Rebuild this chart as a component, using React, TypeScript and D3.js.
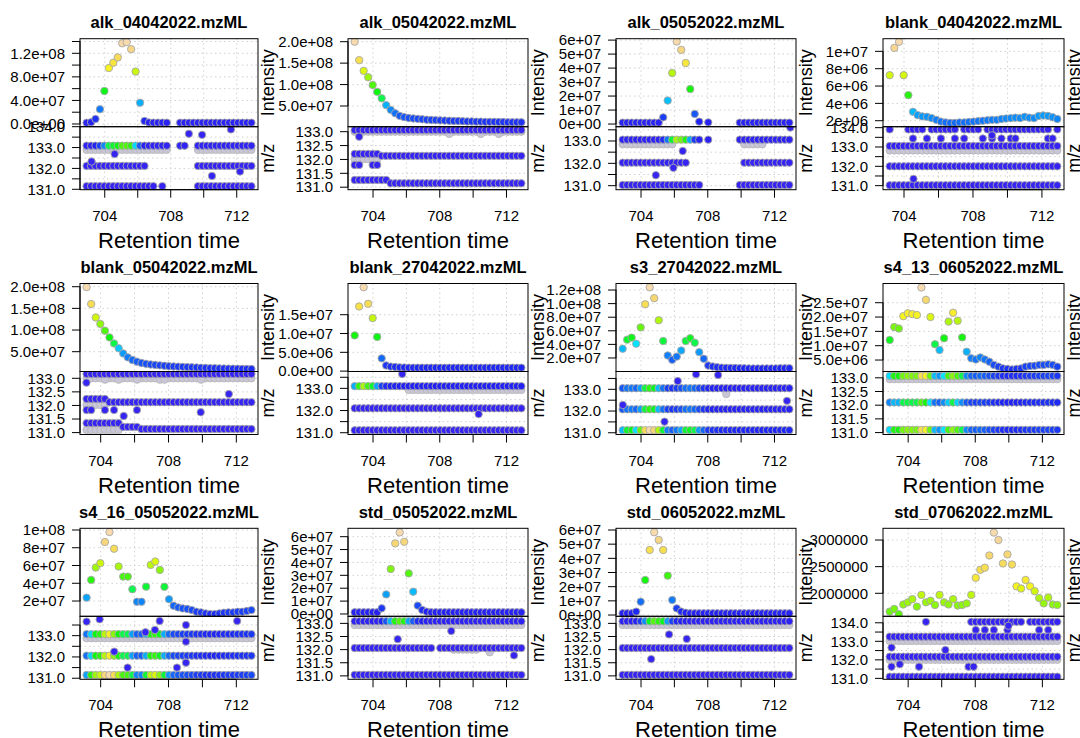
import React from 'react';
import * as d3 from 'd3';

// ---------- data ----------
const rts = [702.90, 703.17, 703.44, 703.71, 703.98, 704.25, 704.52, 704.79, 705.06, 705.33,
  705.60, 705.87, 706.14, 706.41, 706.68, 706.95, 707.22, 707.49, 707.76, 708.03,
  708.30, 708.57, 708.84, 709.11, 709.38, 709.65, 709.92, 710.19, 710.46, 710.73,
  711.00, 711.27, 711.54, 711.81, 712.08, 712.35, 712.62, 712.89];

const fileNames = ['alk_04042022.mzML', 'alk_05042022.mzML', 'alk_05052022.mzML', 'blank_04042022.mzML',
  'blank_05042022.mzML', 'blank_27042022.mzML', 's3_27042022.mzML', 's4_13_06052022.mzML',
  's4_16_05052022.mzML', 'std_05052022.mzML', 'std_06052022.mzML', 'std_07062022.mzML'];

const xTicks = [704, 706, 708, 710, 712];
const xTickLabels = [704, 708, 712];

const intAlk0404 = [2.0e6, 3.0e6, 8.5e6, 2.5e7, 5.6e7, 9.5e7, 1.04e8, 1.13e8, 1.37e8, 1.39e8,
  1.27e8, 8.9e7, 3.6e7, 5.0e6, 2.5e6, 2.3e6, 2.3e6, 2.3e6, 2.2e6, null,
  null, 2.2e6, 2.2e6, 2.2e6, 2.2e6, 2.2e6, 2.2e6, 2.2e6, 2.2e6, 2.2e6,
  2.2e6, 2.2e6, 2.2e6, 2.2e6, 2.2e6, 2.2e6, 2.2e6, 2.2e6];
const intAlk0504 = [2.0e8, 1.57e8, 1.32e8, 1.17e8, 9.9e7, 8.3e7, 6.8e7, 5.2e7, 4.1e7, 3.3e7,
  2.7e7, 2.4e7, 2.2e7, 2.1e7, 2.0e7, 1.9e7, 1.8e7, 1.75e7, 1.7e7, 1.65e7,
  1.6e7, 1.55e7, 1.5e7, 1.5e7, 1.45e7, 1.4e7, 1.4e7, 1.35e7, 1.35e7, 1.3e7,
  1.3e7, 1.3e7, 1.25e7, 1.25e7, 1.2e7, 1.2e7, 1.2e7, 1.2e7];
const intAlk0505 = [1.0e6, 1.0e6, 1.0e6, 1.0e6, 1.0e6, 1.0e6, 1.0e6, 1.0e6, 1.0e6, 4.8e6,
  1.68e7, 3.65e7, 5.9e7, 5.3e7, 4.36e7, 2.5e7, 7.2e6, 1.7e6, null, 1.2e6,
  null, null, null, null, null, null, 1.0e6, 1.0e6, 1.0e6, 1.0e6,
  1.0e6, 1.0e6, 1.0e6, 1.0e6, 1.0e6, 1.0e6, 1.0e6, 1.0e6];
const intBlank0404 = [null, 7.25e6, 1.04e7, 1.11e7, 7.25e6, 4.95e6, 3.03e6, 2.65e6, 2.5e6, 2.45e6,
  2.3e6, 2.1e6, 1.9e6, 1.8e6, 1.75e6, 1.75e6, 1.8e6, 1.8e6, 1.85e6, 1.9e6,
  1.95e6, 2.0e6, 2.05e6, 2.1e6, 2.1e6, 2.2e6, 2.25e6, 2.3e6, 2.35e6, 2.3e6,
  2.45e6, 2.35e6, 2.3e6, 2.55e6, 2.6e6, 2.55e6, 2.4e6, 2.2e6];
const intBlank0504 = [null, 1.99e8, 1.6e8, 1.29e8, 1.14e8, 9.85e7, 8.3e7, 6.9e7, 5.8e7, 4.6e7,
  3.7e7, 3.1e7, 2.7e7, 2.4e7, 2.2e7, 2.05e7, 1.95e7, 1.85e7, 1.75e7, 1.65e7,
  1.6e7, 1.55e7, 1.5e7, 1.45e7, 1.4e7, 1.35e7, 1.3e7, 1.25e7, 1.2e7, 1.2e7,
  1.15e7, 1.12e7, 1.1e7, 1.08e7, 1.05e7, 1.03e7, 1.0e7, 1.0e7];
const intBlank2704 = [9.5e6, 1.72e7, 2.23e7, 1.79e7, 1.41e7, 9.1e6, 3.4e6, 1.5e6, 1.2e6, 1.1e6,
  1.0e6, 9.5e5, 9.0e5, 9.0e5, 9.0e5, 9.0e5, 9.0e5, 9.0e5, 9.0e5, 9.0e5,
  9.0e5, 9.0e5, 9.0e5, 9.0e5, 9.0e5, 9.0e5, 9.0e5, 9.0e5, 9.0e5, 9.0e5,
  9.0e5, 9.0e5, 9.0e5, 9.0e5, 9.0e5, 9.0e5, 9.0e5, 9.0e5];
const intS3 = [3.36e7, 4.7e7, 5.0e7, 4.1e7, 6.5e7, 9.9e7, 1.24e8, 1.08e8, 7.55e7, 4.5e7,
  2.37e7, 1.73e7, 2.2e7, 3.1e7, 4.5e7, 4.9e7, 4.25e7, 2.86e7, 1.88e7, 8.9e6,
  7.4e6, 6.4e6, 5.8e6, 5.5e6, 5.3e6, 5.2e6, 5.0e6, 4.8e6, 4.6e6, 4.5e6,
  4.5e6, 4.5e6, 4.6e6, 4.6e6, 4.7e6, 4.8e6, 4.8e6, 4.9e6];
const intS4_13 = [1.2e7, 1.65e7, 1.6e7, 2.03e7, 2.13e7, 2.1e7, 2.07e7, 3.03e7, 2.6e7, 2.0e7,
  1.05e7, 8.5e6, 1.26e7, 1.84e7, 2.15e7, 1.87e7, 1.29e7, 7.9e6, 5.6e6, 5.2e6,
  5.9e6, 5.2e6, 4.4e6, 3.3e6, 2.7e6, 2.1e6, 1.9e6, 1.7e6, 1.9e6, 2.1e6,
  2.7e6, 2.9e6, 3.0e6, 3.3e6, 3.3e6, 3.5e6, 3.3e6, 2.7e6];
const intS4_16 = [null, 2.38e7, 4.38e7, 5.77e7, 6.26e7, 8.64e7, 9.77e7, 7.89e7, 5.89e7, 4.75e7,
  4.75e7, 3.32e7, 1.92e7, 1.92e7, 3.62e7, 6.07e7, 6.45e7, 5.5e7, 3.6e7, 2.2e7,
  1.47e7, 1.28e7, 1.17e7, 1.1e7, 9.8e6, 7.9e6, 7.2e6, 6.0e6, 5.3e6, 5.3e6,
  6.0e6, 6.8e6, 7.2e6, 7.2e6, 7.9e6, 7.9e6, 8.7e6, 9.8e6];
const intStd0505 = [1.3e6, 1.3e6, 1.3e6, 1.3e6, 1.3e6, 1.3e6, 4.4e6, 1.52e7, 3.49e7, 5.48e7,
  6.33e7, 5.6e7, 3.15e7, 1.73e7, 6.5e6, 3.1e6, 1.8e6, 1.3e6, 1.3e6, 1.3e6,
  1.3e6, 1.3e6, 1.3e6, 1.3e6, 1.3e6, 1.3e6, 1.3e6, 1.3e6, 1.3e6, 1.3e6,
  1.3e6, 1.3e6, 1.3e6, 1.3e6, 1.3e6, 1.3e6, 1.3e6, 1.3e6];
const intStd0605 = [1.2e6, 1.2e6, 1.2e6, 2.4e6, 9.4e6, 2.47e7, 4.59e7, 5.84e7, 5.3e7, 4.59e7,
  2.78e7, 1.06e7, 4.7e6, 2.4e6, 1.6e6, 1.2e6, 1.2e6, 1.2e6, 1.2e6, 1.2e6,
  1.2e6, 1.2e6, 1.2e6, 1.2e6, 1.2e6, 1.2e6, 1.2e6, 1.2e6, 1.2e6, 1.2e6,
  1.2e6, 1.2e6, 1.2e6, 1.2e6, 1.2e6, 1.2e6, 1.2e6, 1.2e6];
const intStd0706 = [1.656e6, 1.706e6, 1.606e6, 1.79e6, 1.83e6, 1.89e6, 1.75e6, 1.97e6, 1.83e6, 1.86e6,
  1.78e6, 1.97e6, 1.83e6, 1.79e6, 1.89e6, 1.77e6, 1.78e6, 1.81e6, 1.97e6, 2.29e6,
  2.44e6, 2.48e6, 2.71e6, 3.14e6, 3.0e6, 2.56e6, 2.73e6, 2.54e6, 2.13e6, 2.09e6,
  2.25e6, 2.13e6, 2.04e6, 1.91e6, 1.81e6, 1.92e6, 1.79e6, 1.78e6];

// intensity axis ticks
const ticksAlk0404 = [0, 2e7, 4e7, 6e7, 8e7, 1e8, 1.2e8, 1.4e8];
const labelsAlk0404 = [0, 4e7, 8e7, 1.2e8];
const ticks5e7 = [5e7, 1e8, 1.5e8, 2e8];
const ticks1e7 = [0, 1e7, 2e7, 3e7, 4e7, 5e7, 6e7];
const ticks2e6 = [2e6, 4e6, 6e6, 8e6, 1e7];
const ticksBlank2704 = [0, 5e6, 1e7, 1.5e7];
const ticks2e7 = [2e7, 4e7, 6e7, 8e7, 1e8, 1.2e8];
const ticksS4_13 = [5e6, 1e7, 1.5e7, 2e7, 2.5e7];
const ticksS4_16 = [2e7, 4e7, 6e7, 8e7, 1e8];
const ticksStd0706 = [2e6, 2.5e6, 3e6];

// m/z axis ticks
const mz131to134 = [131, 131.5, 132, 132.5, 133, 133.5, 134];
const mz131to1335 = [131, 131.5, 132, 132.5, 133, 133.5];
const mz131to133 = [131, 131.5, 132, 132.5, 133];
const mzWhole134 = [131, 132, 133, 134];
const mzWhole133 = [131, 132, 133];

// m/z tracks: [m/z, scan index spans, colour share of the scan intensity]
const ALL = [[0, 37]];
const ALL1 = [[1, 37]];
const tracksAlk0404 = [[133.09, [[0, 18], [21, 22], [25, 37]], 0.5], [132.12, [[0, 13], [25, 37]], 0], [131.15, [[0, 15], [17, 17], [25, 37]], 0]];
const tracksAlk0504 = [[133.06, ALL, 0], [132.2, [[0, 5]], 0], [132.13, [[6, 37]], 0], [131.8, [[0, 1], [4, 5]], 0], [131.26, [[0, 7]], 0], [131.14, [[8, 37]], 0]];
const tracksAlk0505 = [[133.06, [[0, 17], [19, 19], [26, 37]], 0.6], [132.03, [[0, 14], [27, 37]], 0], [131.03, [[0, 17], [26, 37]], 0]];
const tracksBlank0404 = [[133.91, [[1, 1], [5, 8], [10, 15], [17, 20], [22, 35], [37, 37]], 0],
  [133.44, [[6, 6], [9, 9], [12, 12], [15, 15], [17, 17], [21, 21], [23, 23], [25, 25], [27, 28], [35, 36]], 0],
  [133.05, ALL1, 0], [132.0, ALL1, 0], [131.02, ALL1, 0]];
const tracksBlank0504 = [[133.16, ALL1, 0], [132.24, [[1, 5]], 0], [132.12, [[6, 37]], 0], [131.83, [[1, 2], [5, 5], [7, 7]], 0],
  [131.35, [[1, 8]], 0], [131.21, [[9, 12]], 0], [131.13, [[13, 37]], 0]];
const tracksBlank2704 = [[133.1, ALL, 0.6], [132.1, ALL, 0], [131.11, ALL, 0]];
const tracksS3 = [[133.05, ALL, 0.45], [132.08, ALL, 0.45], [131.12, ALL, 1]];
const tracksS4_13 = [[133.07, ALL, 0.8], [132.1, ALL, 0.5], [131.1, ALL, 0.8]];
const tracksS4_16 = [[133.07, ALL1, 0.7], [132.06, ALL1, 0.7], [131.15, ALL1, 1]];
const tracksStd0505 = [[133.08, ALL, 0.5], [132.06, [[0, 17], [19, 37]], 0], [131.04, ALL, 0]];
const tracksStd0605 = [[133.08, ALL, 0.5], [132.06, ALL, 0], [131.04, ALL, 0]];
const tracksStd0706 = [[134.05, [[8, 8], [18, 29], [31, 37]], 0], [133.61, [[19, 19], [21, 21], [23, 23], [26, 26], [33, 33], [35, 35]], 0],
  [133.25, ALL, 0], [132.17, ALL, 0], [131.09, ALL, 0]];

// grey m/z traces: [m/z, spans]
const greyAlk0404 = [[132.89, [[0, 18], [25, 37]]]];
const greyAlk0504 = [[133.0, ALL], [132.01, [[0, 5]]], [132.92, [[21, 21], [28, 28], [32, 32]]]];
const greyAlk0505 = [[132.85, [[0, 11], [27, 31]]]];
const greyBlank0404 = [[132.82, ALL1]];
const greyBlank0504 = [[133.0, ALL1], [132.02, [[1, 5]]], [131.1, [[1, 8]]], [132.95, [[5, 5], [8, 8], [12, 12], [17, 18], [26, 26]]]];
const greyBlank2704 = [[132.93, [[12, 37]]]];
const greyS3 = [[132.78, [[23, 23]]]];
const greyS4_13 = [[132.95, ALL]];
const greyS4_16 = [[132.88, ALL1]];
const greyStd0505 = [[132.94, ALL], [132.0, [[22, 27]]], [131.9, [[30, 30]]]];
const greyStd0605 = [[132.94, ALL]];
const greyStd0706 = [[133.02, ALL], [132.0, ALL]];

// isolated m/z peaks: [rt, m/z]
const outAlk0404 = [[703.2, 132.33], [704.6, 132.69], [709.1, 133.66], [709.9, 133.61], [710.5, 131.64], [711.65, 133.87], [712.2, 131.85]];
const outAlk0504 = [[703.17, 132.82]];
const outAlk0505 = [[704.89, 131.47], [705.94, 131.8], [706.5, 132.55], [712.95, 133.6]];
const outBlank0404 = [[704.55, 131.35], [709.1, 133.6]];
const outBlank0504 = [[703.16, 132.84], [705.36, 131.61], [709.9, 131.75], [711.56, 132.42], [706.14, 131.83]];
const outBlank2704 = [[705.75, 133.65], [710.33, 131.84]];
const outS3 = [[702.91, 132.28], [706.2, 133.38], [705.41, 131.51], [707.3, 133.69], [708.62, 133.66], [712.75, 132.47]];
const outS4_13 = [];
const outS4_16 = [[703.17, 133.66], [703.94, 133.77], [704.8, 132.25], [705.59, 131.5], [706.64, 133.16], [707.2, 133.27],
  [707.48, 133.69], [708.5, 131.5], [709.03, 133.5], [709.03, 132.72], [709.03, 131.73], [712.05, 133.69]];
const outStd0505 = [[708.69, 132.71], [705.48, 132.4], [712.45, 131.78]];
const outStd0605 = [[705.68, 132.58], [704.61, 131.64], [706.74, 132.41]];
const outStd0706 = [[703.01, 132.66], [703.01, 131.63], [703.5, 131.76], [704.65, 131.63], [706.22, 132.53], [707.6, 131.63], [707.9, 131.63], [709.98, 133.84]];

const panels = [
  { int: intAlk0404, intDom: [-4.6e6, 1.448e8], intTicks: ticksAlk0404, intLabels: labelsAlk0404, fmt: 'e1', mzDom: [130.98, 134.0], mzTicks: mz131to134, mzLabels: mzWhole134, tracks: tracksAlk0404, grey: greyAlk0404, out: outAlk0404 },
  { int: intAlk0504, intDom: [1.7e6, 2.07e8], intTicks: ticks5e7, intLabels: ticks5e7, fmt: 'e1', mzDom: [130.91, 133.18], mzTicks: mz131to133, mzLabels: mz131to133, tracks: tracksAlk0504, grey: greyAlk0504, out: outAlk0504 },
  { int: intAlk0505, intDom: [-1.9e6, 6.1e7], intTicks: ticks1e7, intLabels: ticks1e7, fmt: 'e0', mzDom: [130.82, 133.64], mzTicks: mz131to1335, mzLabels: mzWhole133, tracks: tracksAlk0505, grey: greyAlk0505, out: outAlk0505 },
  { int: intBlank0404, intDom: [1.31e6, 1.146e7], intTicks: ticks2e6, intLabels: ticks2e6, fmt: 'e0', mzDom: [130.79, 134.05], mzTicks: mz131to134, mzLabels: mzWhole134, tracks: tracksBlank0404, grey: greyBlank0404, out: outBlank0404 },
  { int: intBlank0504, intDom: [4.3e6, 2.074e8], intTicks: ticks5e7, intLabels: ticks5e7, fmt: 'e1', mzDom: [130.93, 133.25], mzTicks: mz131to133, mzLabels: mz131to133, tracks: tracksBlank0504, grey: greyBlank0504, out: outBlank0504 },
  { int: intBlank2704, intDom: [-1e5, 2.33e7], intTicks: ticksBlank2704, intLabels: ticksBlank2704, fmt: 'e1', mzDom: [130.92, 133.76], mzTicks: mz131to1335, mzLabels: mzWhole133, tracks: tracksBlank2704, grey: greyBlank2704, out: outBlank2704 },
  { int: intS3, intDom: [1e5, 1.296e8], intTicks: ticks2e7, intLabels: ticks2e7, fmt: 'e1', mzDom: [130.92, 133.82], mzTicks: mz131to1335, mzLabels: mzWhole133, tracks: tracksS3, grey: greyS3, out: outS3 },
  { int: intS4_13, intDom: [1.0e6, 3.17e7], intTicks: ticksS4_13, intLabels: ticksS4_13, fmt: 'e1', mzDom: [130.93, 133.23], mzTicks: mz131to133, mzLabels: mz131to133, tracks: tracksS4_13, grey: greyS4_13, out: outS4_13 },
  { int: intS4_16, intDom: [2.8e6, 1.019e8], intTicks: ticksS4_16, intLabels: ticksS4_16, fmt: 'e0', mzDom: [130.95, 133.91], mzTicks: mz131to1335, mzLabels: mzWhole133, tracks: tracksS4_16, grey: greyS4_16, out: outS4_16 },
  { int: intStd0505, intDom: [-1.8e6, 6.65e7], intTicks: ticks1e7, intLabels: ticks1e7, fmt: 'e0', mzDom: [130.87, 133.27], mzTicks: mz131to133, mzLabels: mz131to133, tracks: tracksStd0505, grey: greyStd0505, out: outStd0505 },
  { int: intStd0605, intDom: [-0.9e6, 6.12e7], intTicks: ticks1e7, intLabels: ticks1e7, fmt: 'e0', mzDom: [130.87, 133.27], mzTicks: mz131to133, mzLabels: mz131to133, tracks: tracksStd0605, grey: greyStd0605, out: outStd0605 },
  { int: intStd0706, intDom: [1.568e6, 3.22e6], intTicks: ticksStd0706, intLabels: ticksStd0706, fmt: 'plain', mzDom: [130.95, 134.35], mzTicks: mz131to134, mzLabels: mzWhole134, tracks: tracksStd0706, grey: greyStd0706, out: outStd0706 },
];

// ---------- layout ----------
const COLS = [[80, 258], [348, 528], [616, 796], [883, 1064]];
const ROW_TOP = [38.7, 283.5, 528.3];
const UPPER_H = 88;
const LOWER_H = 63;
const FONT = "'Liberation Sans', Arial, Helvetica, sans-serif";
const R_PT = 3.7;

function hsv2hex(h: number, s: number, v: number) {
  const hh = ((h % 1) + 1) % 1;
  const i = Math.floor(hh * 6);
  const f = hh * 6 - i;
  const p = v * (1 - s), q = v * (1 - f * s), t = v * (1 - (1 - f) * s);
  let r = 0, g = 0, b = 0;
  switch (i % 6) {
    case 0: r = v; g = t; b = p; break;
    case 1: r = q; g = v; b = p; break;
    case 2: r = p; g = v; b = t; break;
    case 3: r = p; g = q; b = v; break;
    case 4: r = t; g = p; b = v; break;
    default: r = v; g = p; b = q;
  }
  return d3.rgb(r * 255, g * 255, b * 255).formatHex();
}

// topo.colors-like continuous ramp (low end slightly bluer, as rendered in the reference)
function topo(t: number) {
  const u = Math.max(0, Math.min(1, t));
  if (u < 1 / 3) {
    const k = u * 3;
    return hsv2hex(0.68 + (31 / 60 - 0.68) * k, 0.85 + 0.15 * k, 0.95 + 0.05 * k);
  } else if (u < 2 / 3) {
    const k = (u - 1 / 3) * 3;
    return hsv2hex(23 / 60 + (11 / 60 - 23 / 60) * k, 0.95, 0.97);
  }
  const k = (u - 2 / 3) * 3;
  return hsv2hex(10 / 60 + (6 / 60 - 10 / 60) * k, 0.9 - 0.6 * k, 0.97);
}

function fmtVal(v: number, fmt: string) {
  if (fmt === 'plain') return String(Math.round(v));
  const s = v.toExponential(fmt === 'e1' ? 1 : 0);
  const [m, e] = s.split('e');
  return `${m}e${e[0]}${e.slice(1).padStart(2, '0')}`;
}

function expand(spans: number[][]) {
  const out: number[] = [];
  spans.forEach(([a, b]) => { for (let i = a; i <= b; i++) out.push(i); });
  return out;
}

function Panel({ idx }: { idx: number }) {
  const p: any = panels[idx];
  const col = idx % 4, row = Math.floor(idx / 4);
  const [L, R] = COLS[col];
  const T = ROW_TOP[row];
  const D = T + UPPER_H;
  const B = D + LOWER_H;

  const present = rts.filter((_, i) => p.int[i] != null);
  const [r0, r1] = d3.extent(present) as [number, number];
  const pad = 0.04 * (r1 - r0);
  const x = d3.scaleLinear().domain([r0 - pad, r1 + pad]).range([L, R]);
  const yI = d3.scaleLinear().domain(p.intDom).range([D, T]);
  const yM = d3.scaleLinear().domain(p.mzDom).range([B, D]);
  const maxI = d3.max(p.int as number[]) as number;
  const color = d3.scaleLinear().domain([0, maxI]).range([0, 1]).clamp(true);

  const clipU = `clipU${idx}`, clipL = `clipL${idx}`;
  const gridStyle = { stroke: '#cccccc', strokeWidth: 0.9, strokeDasharray: '1.5,3' };
  const ptStroke = '#a8a8a8';

  return (
    <g>
      <defs>
        <clipPath id={clipU}><rect x={L} y={T} width={R - L} height={D - T} /></clipPath>
        <clipPath id={clipL}><rect x={L} y={D} width={R - L} height={B - D} /></clipPath>
      </defs>
      <text x={(L + R) / 2} y={T - 10.4} textAnchor="middle" fontWeight="bold" fontSize={16.5} fontFamily={FONT}>{fileNames[idx]}</text>

      <g clipPath={`url(#${clipU})`}>
        {xTicks.map(t => <line key={'gxu' + t} x1={x(t)} x2={x(t)} y1={T} y2={D} style={gridStyle} />)}
        {p.intTicks.map((t: number) => <line key={'gyu' + t} x1={L} x2={R} y1={yI(t)} y2={yI(t)} style={gridStyle} />)}
      </g>
      <g clipPath={`url(#${clipL})`}>
        {xTicks.map(t => <line key={'gxl' + t} x1={x(t)} x2={x(t)} y1={D} y2={B} style={gridStyle} />)}
        {p.mzTicks.map((t: number) => <line key={'gyl' + t} x1={L} x2={R} y1={yM(t)} y2={yM(t)} style={gridStyle} />)}
      </g>

      <g clipPath={`url(#${clipU})`}>
        {rts.map((rt, i) => p.int[i] == null ? null : (
          <circle key={'u' + i} cx={x(rt)} cy={yI(p.int[i])} r={R_PT} fill={topo(color(p.int[i]))} stroke={ptStroke} strokeWidth={0.9} />
        ))}
      </g>

      <g clipPath={`url(#${clipL})`}>
        {p.grey.map(([mz, spans]: any, gi: number) => expand(spans).map(i => (
          <circle key={`g${gi}-${i}`} cx={x(rts[i])} cy={yM(mz)} r={R_PT} fill="#c9c6d8" stroke="#b8b8b8" strokeWidth={0.9} />
        )))}
        {p.tracks.map(([mz, spans, share]: any, ti: number) => expand(spans).map(i => {
          const v = p.int[i] == null ? 0 : p.int[i] * share;
          return <circle key={`t${ti}-${i}`} cx={x(rts[i])} cy={yM(mz)} r={R_PT} fill={topo(color(v))} stroke={ptStroke} strokeWidth={0.9} />;
        }))}
        {p.out.map(([rt, mz]: number[], oi: number) => (
          <circle key={'o' + oi} cx={x(rt)} cy={yM(mz)} r={R_PT} fill={topo(0)} stroke={ptStroke} strokeWidth={0.9} />
        ))}
      </g>

      <rect x={L} y={T} width={R - L} height={D - T} fill="none" stroke="#000" strokeWidth={1} />
      <rect x={L} y={D} width={R - L} height={B - D} fill="none" stroke="#000" strokeWidth={1} />

      <line x1={L} x2={L} y1={yI(p.intTicks[0])} y2={yI(p.intTicks[p.intTicks.length - 1])} stroke="#000" />
      {p.intTicks.map((t: number) => <line key={'ty' + t} x1={L - 8} x2={L} y1={yI(t)} y2={yI(t)} stroke="#000" />)}
      {p.intLabels.map((t: number) => (
        <text key={'ly' + t} x={L - 15} y={yI(t)} dy="0.35em" textAnchor="end" fontSize={15} fontFamily={FONT}>{fmtVal(t, p.fmt)}</text>
      ))}
      <line x1={L} x2={L} y1={yM(p.mzTicks[0])} y2={yM(p.mzTicks[p.mzTicks.length - 1])} stroke="#000" />
      {p.mzTicks.map((t: number) => <line key={'tm' + t} x1={L - 8} x2={L} y1={yM(t)} y2={yM(t)} stroke="#000" />)}
      {p.mzLabels.map((t: number) => (
        <text key={'lm' + t} x={L - 15} y={yM(t)} dy="0.35em" textAnchor="end" fontSize={15} fontFamily={FONT}>{t.toFixed(1)}</text>
      ))}

      <line x1={x(xTicks[0])} x2={x(xTicks[xTicks.length - 1])} y1={B} y2={B} stroke="#000" />
      {xTicks.map(t => <line key={'tx' + t} x1={x(t)} x2={x(t)} y1={B} y2={B + 8} stroke="#000" />)}
      {xTickLabels.map(t => (
        <text key={'lx' + t} x={x(t)} y={B + 31} textAnchor="middle" fontSize={15} fontFamily={FONT}>{t}</text>
      ))}
      <text x={(L + R) / 2} y={B + 58} textAnchor="middle" fontSize={22} fontFamily={FONT}>Retention time</text>

      <text transform={`translate(${R + 16},${(T + D) / 2}) rotate(-90)`} textAnchor="middle" fontSize={18} fontFamily={FONT}>Intensity</text>
      <text transform={`translate(${R + 16},${(D + B) / 2}) rotate(-90)`} textAnchor="middle" fontSize={18} fontFamily={FONT}>m/z</text>
    </g>
  );
}

export default function App() {
  return (
    <svg width={1080} height={738} style={{ position: 'absolute', left: 0, top: 0, background: '#fff' }}>
      <rect x={0} y={0} width={1080} height={738} fill="#fff" />
      {panels.map((_, i) => <Panel key={i} idx={i} />)}
    </svg>
  );
}
